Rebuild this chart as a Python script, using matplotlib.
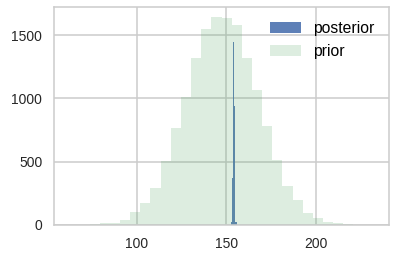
import matplotlib
matplotlib.use("Agg")
import matplotlib.pyplot as plt
import numpy as np

# prior histogram: 30 bins between the sample min and max
prior_lo, prior_hi = 62.5, 232.1
prior_counts = [1, 3, 6, 14, 14, 37, 102, 175, 293, 508,
                768, 1013, 1317, 1545, 1640, 1632, 1577, 1317, 1069, 783,
                511, 307, 196, 92, 54, 23, 13, 5, 3, 2]

# posterior histogram (very narrow around ~154)
post_edges = [152.8, 153.35, 153.9, 154.3, 154.9, 155.9]
post_counts = [20, 370, 1444, 942, 20]

plt.rcParams['font.family'] = ['Liberation Sans', 'DejaVu Sans']

fig = plt.figure(figsize=(3.95, 2.58), dpi=100)
ax = fig.add_axes([54 / 395, 1 - 225 / 258, (389 - 54) / 395, (225 - 7) / 258])

prior_edges = np.linspace(prior_lo, prior_hi, len(prior_counts) + 1)

ax.hist(post_edges[:-1], bins=post_edges, weights=post_counts,
        color='#4C72B0', alpha=0.9, label='posterior')
ax.hist(prior_edges[:-1], bins=prior_edges, weights=prior_counts,
        color='#55A868', alpha=0.2, label='prior')

ax.set_xticks([100, 150, 200])
ax.set_yticks([0, 500, 1000, 1500])
ax.set_axisbelow(True)
ax.grid(True, color='.8', lw=1.1)
for sp in ax.spines.values():
    sp.set_color('.8')
    sp.set_linewidth(1.1)
ax.tick_params(length=0, pad=8.5, labelsize=10, labelcolor='.15')

ax.legend(loc='upper right', frameon=False, fontsize=11.3)

fig.savefig('out.png', dpi=100)
